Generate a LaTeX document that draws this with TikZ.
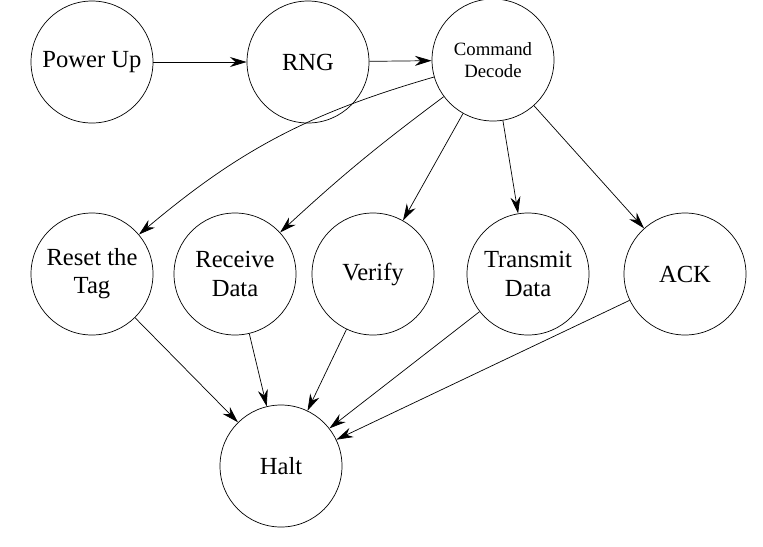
\documentclass[tikz,border=0pt]{standalone}
\usepackage{fontspec}
\setmainfont{Liberation Serif}
\usetikzlibrary{arrows.meta}
\begin{document}
\begin{tikzpicture}[x=0.03cm,y=-0.03cm,
    state/.style={draw,circle,line width=0.6pt,minimum size=3.66cm,inner sep=0pt,
                  align=center,font=\fontsize{21}{24}\selectfont},
    trans/.style={-{Stealth[length=5mm,width=3mm]},line width=0.6pt}]
\useasboundingbox (0,0) rectangle (763,546);
% states
\node [state] (powerup) at (92,62) {Power Up};
\node [state] (rng) at (308,62) {RNG};
\node [state,font=\fontsize{16}{19}\selectfont] (decode) at (493,60) {Command\\Decode};
\node [state] (reset) at (92,274) {Reset the\\Tag};
\node [state] (receive) at (235,274) {Receive\\Data};
\node [state] (verify) at (373,274) {Verify};
\node [state] (transmit) at (528,274) {Transmit\\Data};
\node [state] (ack) at (685,274) {ACK};
\node [state] (halt) at (281,466) {Halt};
% transitions
\draw [trans] (powerup) -- (rng);
\draw [trans] (rng) -- (decode);
\draw [trans] (decode) to[bend right=12] (reset);
\draw [trans] (decode) to[bend right=3] (receive);
\draw [trans] (decode) -- (verify);
\draw [trans] (decode) -- (transmit);
\draw [trans] (decode) -- (ack);
\draw [trans] (reset) -- (halt);
\draw [trans] (receive) -- (halt);
\draw [trans] (verify) -- (halt);
\draw [trans] (transmit) -- (halt);
\draw [trans] (ack) -- (halt);
\end{tikzpicture}
\end{document}
